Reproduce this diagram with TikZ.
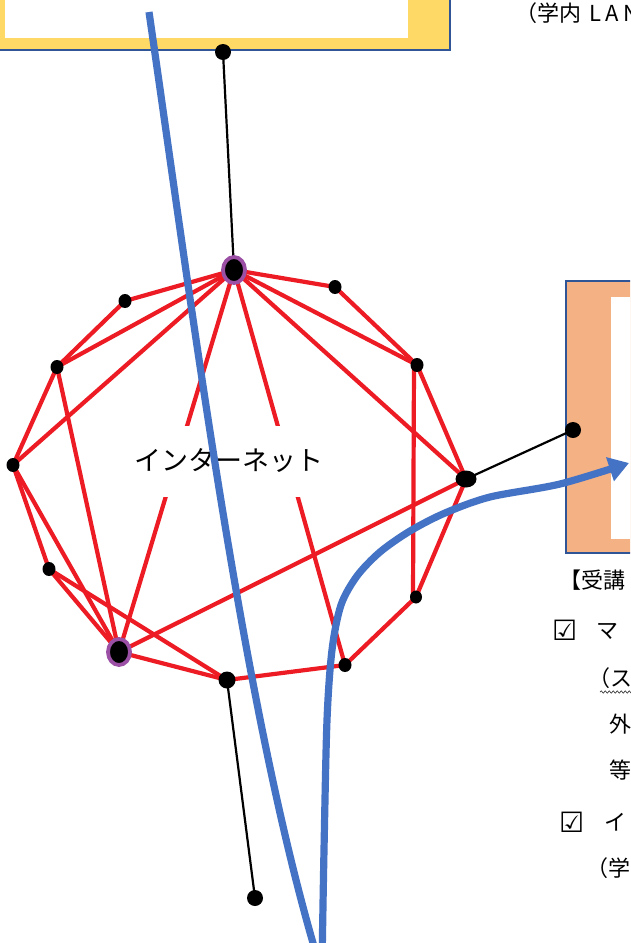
\documentclass[tikz,border=0pt]{standalone}
\usepackage{fontspec}
\newfontfamily\jpfont{Noto Sans CJK JP}
\newfontfamily\symfont{DejaVu Sans}
\usetikzlibrary{shapes.geometric,arrows.meta,decorations.pathmorphing}
\definecolor{lineRed}{RGB}{237,28,36}
\definecolor{hubPurple}{RGB}{155,80,165}
\definecolor{curveBlue}{RGB}{68,114,196}
\definecolor{boxYellow}{RGB}{255,217,102}
\definecolor{boxOrange}{RGB}{244,177,131}
\definecolor{boxEdge}{RGB}{47,85,151}
\pgfdeclarelayer{back}
\pgfdeclarelayer{edges}
\pgfdeclarelayer{fore}
\pgfsetlayers{back,edges,main,fore}
\tikzset{
  redl/.style={draw=lineRed, line width=4.2},
  blkl/.style={draw=black, line width=2.2},
  dotS/.style={ellipse, fill=black, inner sep=0pt, minimum width=13, minimum height=14},
  dotM/.style={ellipse, fill=black, inner sep=0pt, minimum width=17, minimum height=17},
  endDot/.style={circle, fill=black, inner sep=0pt, minimum size=16},
  hub/.style={ellipse, fill=black, draw=hubPurple, line width=3.8, inner sep=0pt, minimum width=22, minimum height=26},
  bluel/.style={draw=curveBlue, line width=7.2},
  panel/.style={rectangle, inner sep=0pt, draw=boxEdge, line width=1.6},
  panelIn/.style={rectangle, inner sep=0pt, fill=white},
  txt/.style={inner sep=0pt, anchor=base west, font=\jpfont\fontsize{22}{26}\selectfont},
  chk/.style={inner sep=0pt, anchor=base west, font=\symfont\fontsize{28}{32}\selectfont},
}
\begin{document}
\begin{tikzpicture}[x=1pt,y=-1pt]
\useasboundingbox (0,0) rectangle (630,943);

\begin{pgfonlayer}{back}
\clip (0,0) rectangle (630,943);
\fill[white] (0,0) rectangle (630,943);
\node[panel, fill=boxYellow, minimum width=460, minimum height=60] (ybox) at (220,20) {};
\node[panelIn, minimum width=403, minimum height=48] (yin) at (206.5,14) {};
\node[panel, fill=boxOrange, minimum width=84, minimum height=272] (obox) at (608,417) {};
\node[panelIn, minimum width=39, minimum height=242] (oin) at (630.5,418) {};
\end{pgfonlayer}

% graph nodes
\node[hub] (H) at (234,270) {};
\node[dotS] (n1) at (125,301) {};
\node[dotS] (n2) at (57,367) {};
\node[dotS] (n3) at (13,465) {};
\node[dotS] (n4) at (49,569) {};
\node[hub] (L) at (119,652) {};
\node[dotM] (B) at (227,680) {};
\node[dotS] (n6) at (345,665) {};
\node[dotS, minimum width=12, minimum height=13] (n7) at (416,597) {};
\node[dotM, minimum width=21, minimum height=17] (R) at (466,479) {};
\node[dotS] (n8) at (417,365) {};
\node[dotS] (n9) at (335,287) {};
\node[endDot] (t1) at (223,52) {};
\node[endDot] (t2) at (573,430) {};
\node[endDot] (t3) at (255,898) {};

\node[fill=white, inner sep=0pt, minimum width=215, minimum height=71,
      font=\jpfont\fontsize{27}{30}\selectfont] (inet) at (229,461) {インターネット};

\begin{pgfonlayer}{edges}
\foreach \a/\b in {H/n1, n1/n2, n2/n3, n3/n4, n4/L, L/B, B/n6, n6/n7, n7/R, R/n8, n8/n9, n9/H,
                   H/n2, H/n3, H/L, H/n6, H/n8, H/R, L/n3, L/n2, L/R, n4/B}
  \draw[redl] (\a.center) -- (\b.center);
\draw[redl] ([xshift=-3pt]n8.center) -- ([xshift=-3pt]n7.center);
\draw[blkl] (t1.center) -- (H.center);
\draw[blkl] (R.center) -- (t2.center);
\draw[blkl] (B.center) -- (t3.center);
\end{pgfonlayer}

% texts
\node[txt] (lan) at (515,21) {（学内 \hspace{3pt}{\addfontfeature{LetterSpace=20}LAN}};
\node[txt] (hd) at (559,588) {【受講};
\node[chk] (cb1) at (552,640) {☑};
\node[txt] (m1) at (596,638) {マ};
\node[txt] (p1) at (588,686) {（ス};
\draw[decorate, decoration={snake, amplitude=1.1pt, segment length=4pt}, line width=0.7, black!75] (600,692) -- (634,692);
\node[txt] (g1) at (609,732) {外};
\node[txt] (g2) at (609,778) {等};
\node[chk] (cb2) at (559,832) {☑};
\node[txt] (m2) at (604,830) {イ};
\node[txt] (p2) at (586,876) {（学};

\begin{pgfonlayer}{fore}
\clip (0,0) rectangle (630,943);
\draw[bluel] (149,12) .. controls (192.5,312) and (243,710) .. (318,960);
\draw[bluel, -{Triangle[length=20,width=24]}] plot[smooth] coordinates
  {(322,965) (324,850) (327,720) (332,650) (341,605) (357,576) (380,552) (410,531) (445,513) (490,497) (560,484) (629,463)};
\end{pgfonlayer}
\end{tikzpicture}
\end{document}
